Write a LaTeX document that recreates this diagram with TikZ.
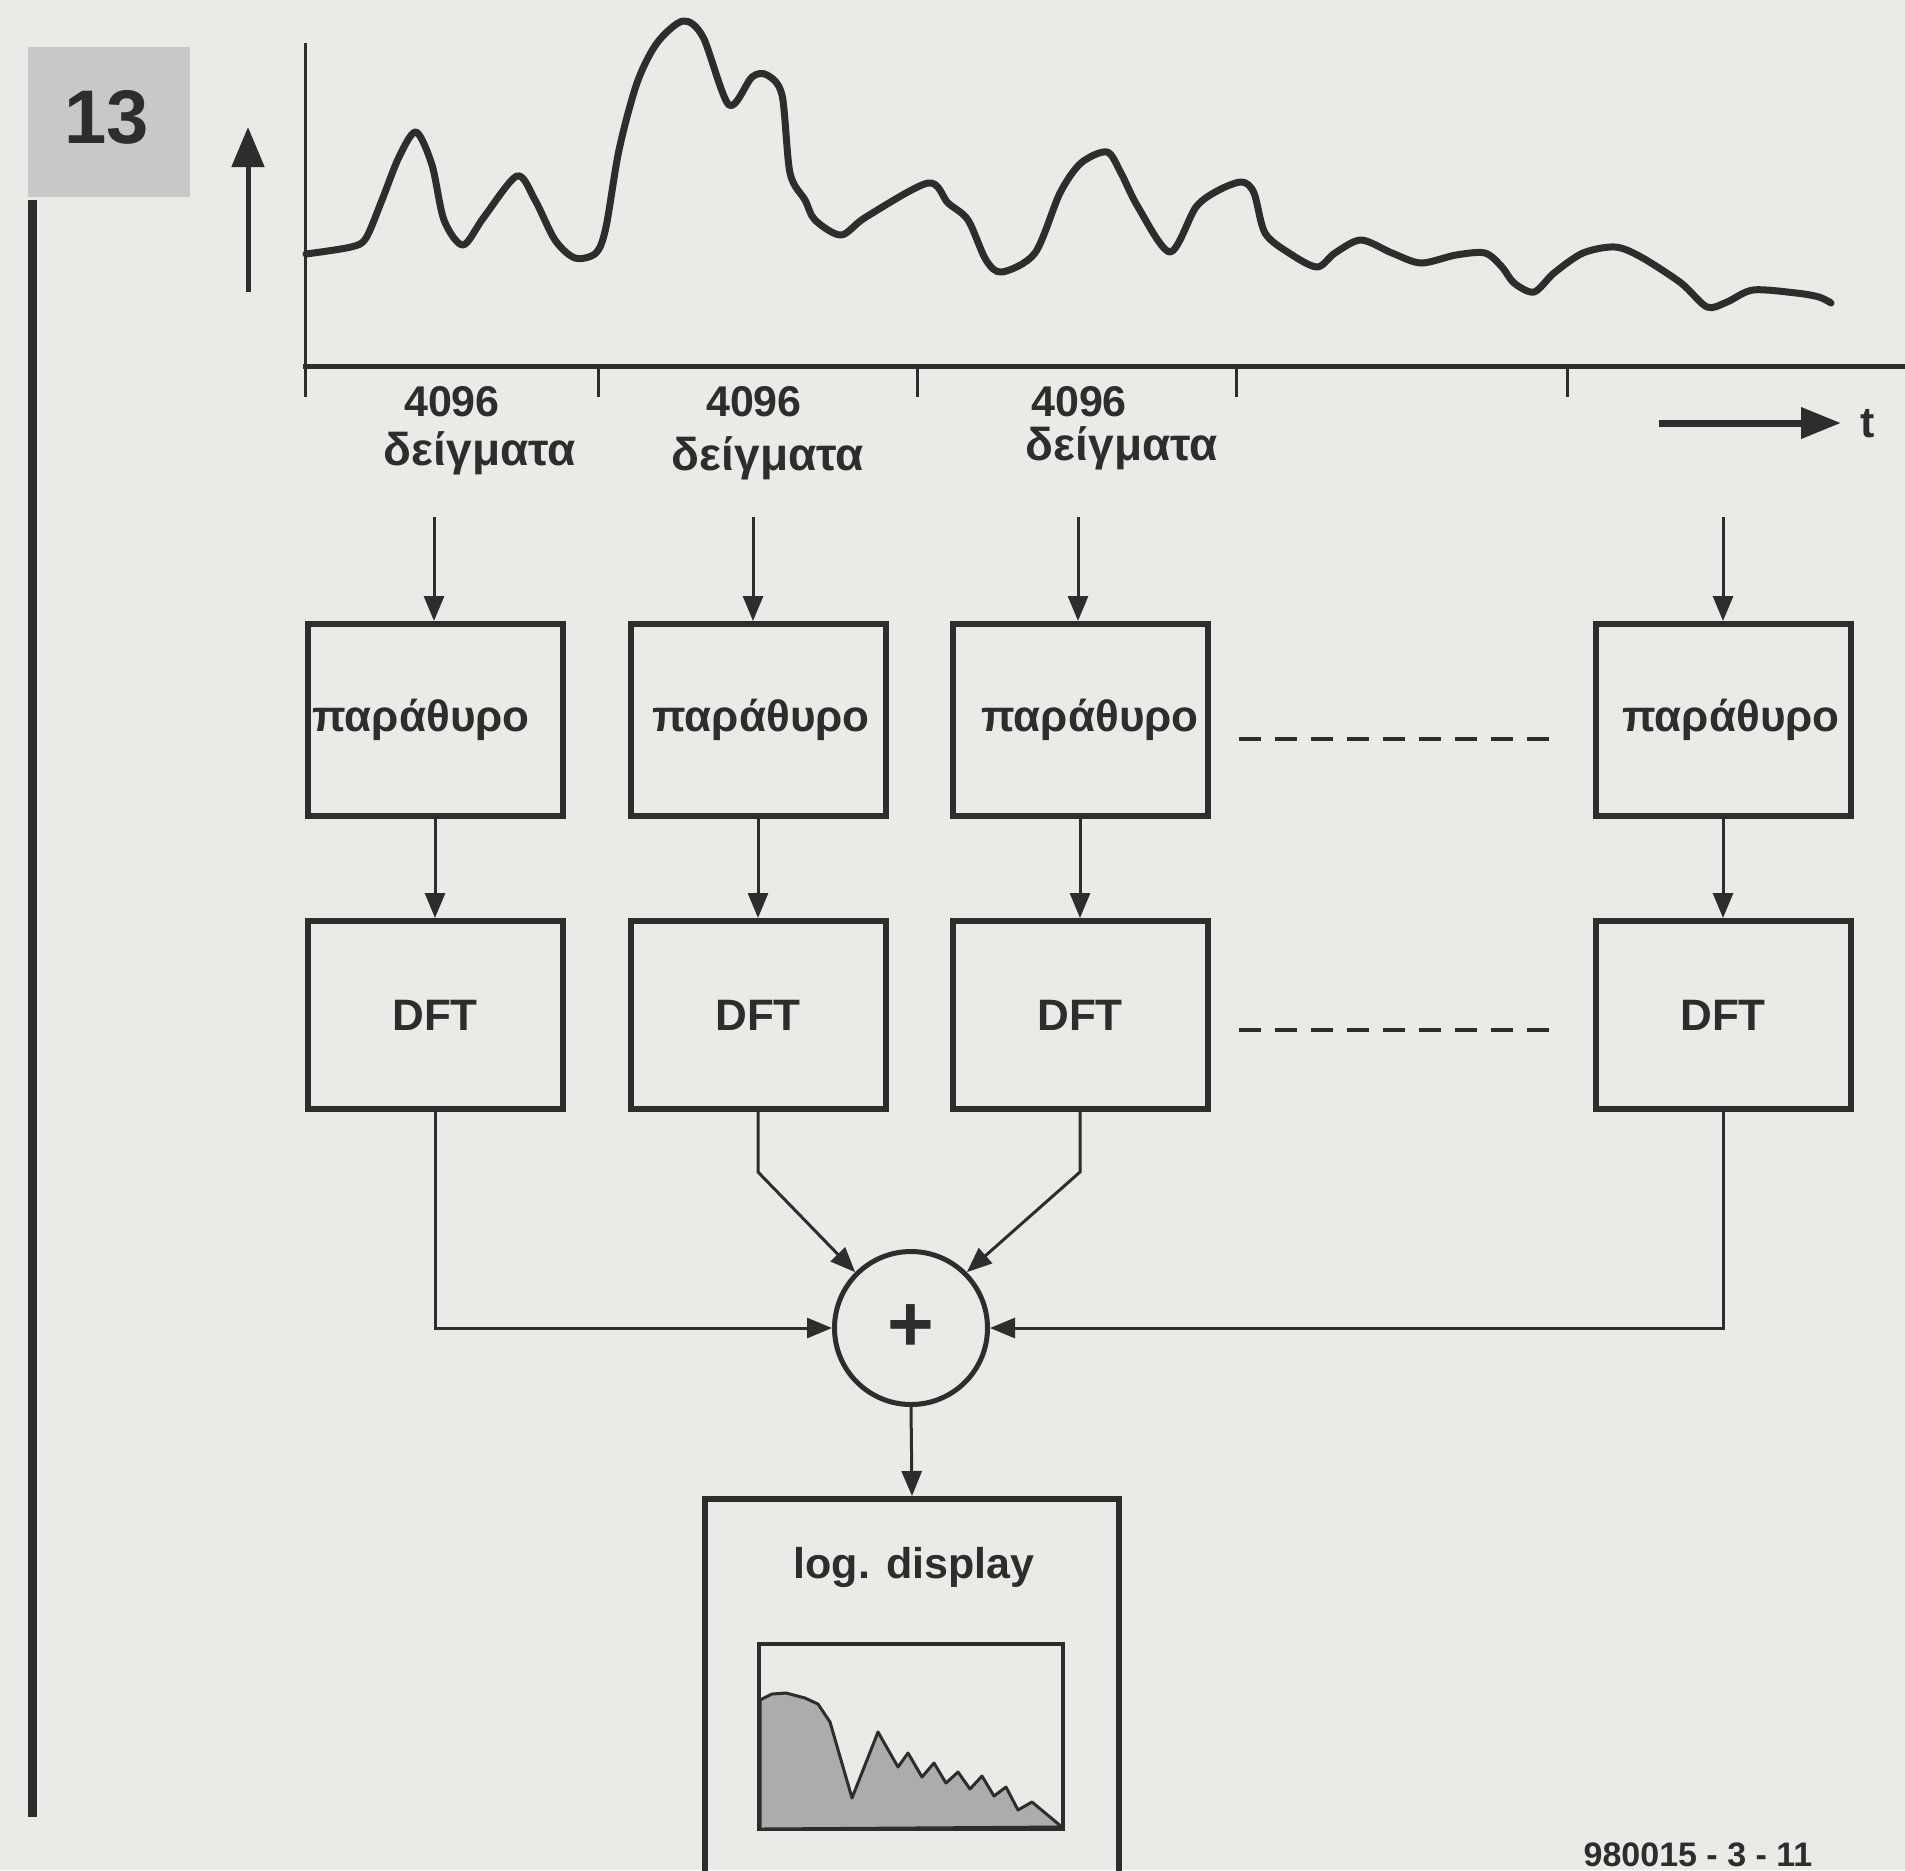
\documentclass[tikz,border=0pt]{standalone}
\usepackage{fontspec}
\setmainfont{Liberation Sans}
\usetikzlibrary{arrows.meta}
\definecolor{bg}{RGB}{234,234,231}
\definecolor{ink}{RGB}{45,45,45}
\definecolor{spec}{RGB}{172,172,172}
\definecolor{tagfill}{RGB}{200,200,200}
\begin{document}
\begin{tikzpicture}[x=0.5pt,y=-0.5pt,
  box/.style={draw=ink, line width=3pt, minimum width=127.5pt, minimum height=96pt, inner sep=0pt, font=\fontsize{22}{24}\selectfont\bfseries, text=ink},
  conn/.style={draw=ink, line width=1.5pt, -{Triangle[length=12.5pt,width=10pt]}},
  lbl/.style={font=\fontsize{21.5}{25}\selectfont\bfseries, text=ink, inner sep=0pt, anchor=base},
  glbl/.style={font=\fontsize{23}{25}\selectfont\bfseries, text=ink, inner sep=0pt, anchor=base},
  dashline/.style={draw=ink, line width=2pt, dash pattern=on 11pt off 7pt},
  tickline/.style={draw=ink, line width=1.5pt},
]
\clip (0,0) rectangle (1905,1870);
\fill[bg] (0,0) rectangle (1905,1870);

% figure number tag and left bar
\fill[tagfill] (28,47) rectangle (190,197);
\node[font=\fontsize{38}{40}\selectfont\bfseries, text=ink, inner sep=0pt] (fig) at (107,117) {13};
\draw[ink, line width=4.5pt] (32,200) -- (32,1817);

% axes
\coordinate (yb) at (248,292);
\coordinate (yt) at (248,127);
\draw[ink, line width=2.5pt, -{Triangle[length=20pt,width=16pt]}] (yb) -- (yt);
\draw[ink, line width=1.5pt] (305,43) -- (305,397);
\draw[ink, line width=2.5pt] (303,366) -- (1905,366);
\foreach \x in {598,917,1236,1567} \draw[tickline] (\x,366) -- (\x,397);
\coordinate (tb) at (1659,423);
\coordinate (te) at (1841,423);
\draw[ink, line width=3.5pt, -{Triangle[length=20pt,width=15pt]}] (tb) -- (te);
\node[lbl] (tlab) at (1868,437) {t};

% waveform
\draw[ink, line width=3.5pt, line join=round, line cap=round] plot[smooth, tension=0.5] coordinates {
 (306,254) (351,247) (366,238) (382,200) (399,157) (416,132) (432,165) (444,220) (463,245)
 (484,217) (517,176) (535,200) (555,240) (575,258) (596,253) (606,227) (619,150) (637,83)
 (657,43) (683,21) (703,37) (729,105) (752,77) (767,75) (782,95) (790,173) (805,200) (815,220)
 (841,235) (866,217) (928,183) (948,203) (968,220) (986,260) (1002,272) (1035,253) (1060,193)
 (1081,163) (1107,152) (1121,173) (1138,207) (1170,252) (1196,207) (1219,190) (1242,182)
 (1254,193) (1265,233) (1289,253) (1317,267) (1335,253) (1361,240) (1392,253) (1421,263)
 (1456,255) (1485,253) (1502,267) (1514,283) (1534,292) (1554,273) (1583,253) (1615,247)
 (1641,257) (1681,283) (1707,307) (1727,302) (1753,290) (1796,293) (1819,297) (1831,303)};

% sample labels
\node[lbl] (n1) at (452,416) {4096};
\node[glbl] (g1) at (480,465) {δείγματα};
\node[lbl] (n2) at (754,416) {4096};
\node[glbl] (g2) at (768,470) {δείγματα};
\node[lbl] (n3) at (1079,416) {4096};
\node[glbl] (g3) at (1122,460) {δείγματα};

% window boxes
\node[box] (w1) at (435,720) {\kern-14pt παράθυρο};
\node[box] (w2) at (758,720) {\kern3pt παράθυρο};
\node[box] (w3) at (1080,720) {\kern10pt\raisebox{5pt}{παράθυρο}};
\node[box] (w4) at (1723,720) {\kern8pt\raisebox{5pt}{παράθυρο}};

% DFT boxes
\node[box, minimum height=94pt] (d1) at (435,1015) {DFT};
\node[box, minimum height=94pt] (d2) at (758,1015) {DFT};
\node[box, minimum height=94pt] (d3) at (1080,1015) {DFT};
\node[box, minimum height=94pt] (d4) at (1723,1015) {DFT};

% inputs
\coordinate (a1) at (434,517);
\coordinate (a2) at (753,517);
\coordinate (a3) at (1078,517);
\coordinate (a4) at (1723,517);
\draw[conn] (a1) -- (w1.north -| a1);
\draw[conn] (a2) -- (w2.north -| a2);
\draw[conn] (a3) -- (w3.north -| a3);
\draw[conn] (a4) -- (w4.north);

\draw[conn] (w1.south) -- (d1.north);
\draw[conn] (w2.south) -- (d2.north);
\draw[conn] (w3.south) -- (d3.north);
\draw[conn] (w4.south) -- (d4.north);

% dashed continuation
\coordinate (dw1) at (1239,739);
\coordinate (dw2) at (1550,739);
\coordinate (dd1) at (1239,1030);
\coordinate (dd2) at (1550,1030);
\draw[dashline] (dw1) -- (dw2);
\draw[dashline] (dd1) -- (dd2);

% summing node
\node[circle, draw=ink, line width=2.5pt, minimum size=76.5pt, inner sep=0pt, font=\fontsize{40}{40}\selectfont\bfseries, text=ink] (sum) at (911,1328) {+};

\draw[conn] (d1.south) |- (sum.west);
\draw[conn] (d2.south) -- ++(0,60) -- (sum.135);
\draw[conn] (d3.south) -- ++(0,60) -- (sum.45);
\draw[conn] (d4.south) |- (sum.east);

% log display
\node[draw=ink, line width=3pt, minimum width=207pt, minimum height=220pt, anchor=north, inner sep=0pt] (lb) at (912,1496) {};
\node[lbl] (lbt) at (914,1578) {log. display};
\draw[conn] (sum.south) -- (lb.north);

% spectrum picture
\draw[ink, line width=2pt] (759,1644) rectangle (1063,1829);
\filldraw[fill=spec, draw=ink, line width=1.5pt, line join=round]
  (760,1829) -- (760,1700) -- (772,1694) -- (786,1693) -- (805,1698) -- (818,1704) -- (830,1722)
  -- (852,1798) -- (878,1732) -- (898,1767) -- (908,1753) -- (922,1777) -- (934,1763)
  -- (946,1783) -- (958,1772) -- (970,1789) -- (982,1776) -- (994,1796) -- (1006,1787)
  -- (1018,1810) -- (1032,1802) -- (1062,1827) -- cycle;

% figure code
\node[font=\fontsize{17}{18}\selectfont\bfseries, text=ink, inner sep=0pt, anchor=base] (code) at (1698,1866) {980015 - 3 - 11};
\end{tikzpicture}
\end{document}
